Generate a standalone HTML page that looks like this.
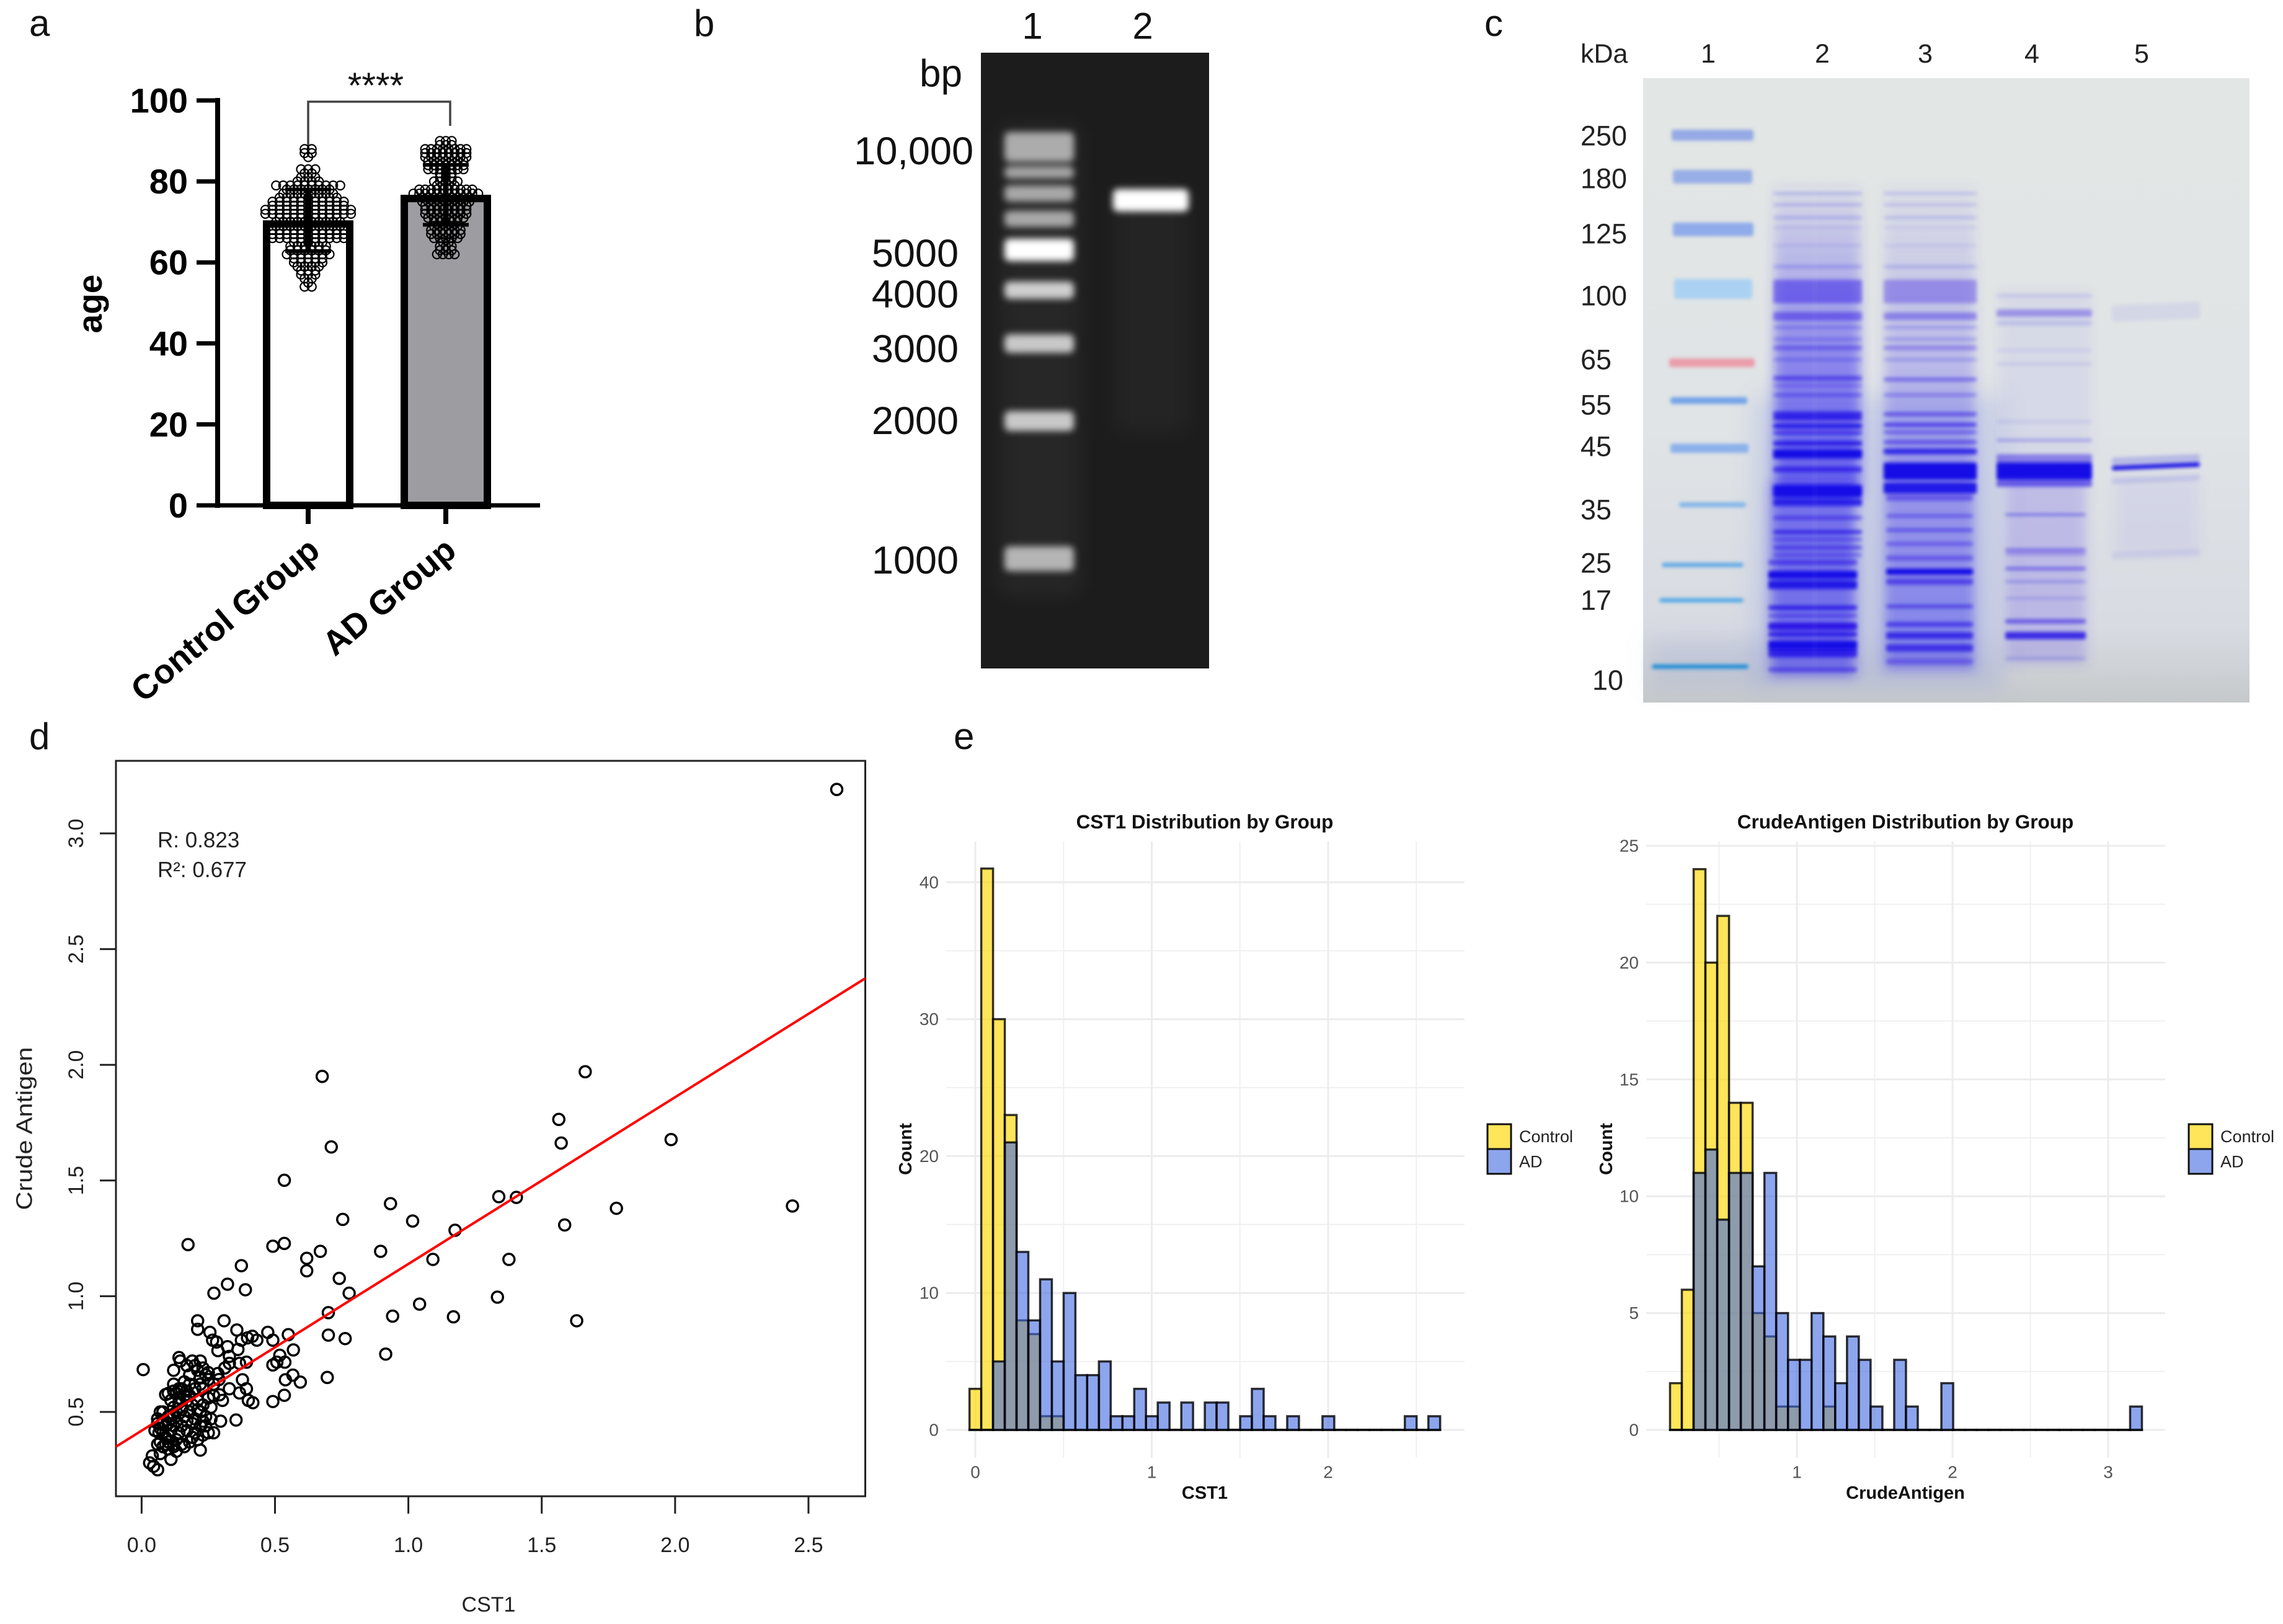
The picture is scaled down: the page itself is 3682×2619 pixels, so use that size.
<!DOCTYPE html>
<html lang="en">
<head>
<meta charset="utf-8">
<title>Multi-panel figure</title>
<style>
html,body{margin:0;padding:0;background:#fff;width:3682px;height:2619px;overflow:hidden}
svg{display:block}
text{font-family:"Liberation Sans",sans-serif}
</style>
</head>
<body>
<svg id="fig" xmlns="http://www.w3.org/2000/svg" width="3682" height="2619" viewBox="0 0 3682 2619">
<defs>
<filter id="blurB" x="-5%" y="-5%" width="110%" height="110%"><feGaussianBlur stdDeviation="5.5"/></filter>
<filter id="blurC" x="-5%" y="-5%" width="110%" height="110%"><feGaussianBlur stdDeviation="2.8"/></filter>
<filter id="blurSmear" x="-10%" y="-10%" width="120%" height="120%"><feGaussianBlur stdDeviation="9"/></filter>
<filter id="blurGlow" x="-20%" y="-20%" width="140%" height="140%"><feGaussianBlur stdDeviation="18"/></filter>
<linearGradient id="gelCbg" x1="0" y1="0" x2="0" y2="1">
<stop offset="0" stop-color="#e2e6e4"/><stop offset="0.55" stop-color="#e0e4e6"/><stop offset="0.88" stop-color="#d8dbe2"/><stop offset="1" stop-color="#c6c9cb"/>
</linearGradient>
<linearGradient id="smear2" x1="0" y1="0" x2="0" y2="1">
<stop offset="0" stop-color="#4a3cf0" stop-opacity="0.05"/><stop offset="0.22" stop-color="#4a3cf0" stop-opacity="0.25"/><stop offset="0.55" stop-color="#3a2cf0" stop-opacity="0.5"/><stop offset="1" stop-color="#2a20f0" stop-opacity="0.62"/>
</linearGradient>
<linearGradient id="smear3" x1="0" y1="0" x2="0" y2="1">
<stop offset="0" stop-color="#5a4cf0" stop-opacity="0.04"/><stop offset="0.22" stop-color="#5a4cf0" stop-opacity="0.2"/><stop offset="0.55" stop-color="#4a3cf0" stop-opacity="0.36"/><stop offset="1" stop-color="#3a30f0" stop-opacity="0.46"/>
</linearGradient>
</defs>
<rect width="3682" height="2619" fill="#fff"/>

<text x="47" y="58" font-size="60" fill="#111">a</text>
<text x="1119" y="58" font-size="60" fill="#111">b</text>
<text x="2394" y="58" font-size="60" fill="#111">c</text>
<text x="47" y="1208" font-size="60" fill="#111">d</text>
<text x="1538" y="1208" font-size="60" fill="#111">e</text>

<g id="panelA">
<text transform="rotate(-90 145 490)" x="145" y="490" text-anchor="middle" dominant-baseline="central" font-size="55" font-weight="700" fill="#000">age</text>
<text transform="rotate(-40 519 893)" x="519" y="893" text-anchor="end" font-size="55" font-weight="700" fill="#000">Control Group</text>
<text transform="rotate(-40 739 893)" x="739" y="893" text-anchor="end" font-size="55" font-weight="700" fill="#000">AD Group</text>
<text x="606" y="158" text-anchor="middle" font-size="58" fill="#111">****</text>
<path d="M497 235V164H726V203" fill="none" stroke="#444" stroke-width="3.5"/>
</g>

<g id="panelB">
<rect x="1582" y="85" width="368" height="993" fill="#1c1c1c"/>
<g filter="url(#blurGlow)">
<rect x="1612" y="200" width="130" height="760" fill="#fff" opacity="0.05"/>
<rect x="1795" y="300" width="125" height="400" fill="#fff" opacity="0.035"/>
</g>
<g id="gelBBands" filter="url(#blurB)"></g>
<text x="1665" y="42" text-anchor="middle" dominant-baseline="central" font-size="60" fill="#111">1</text>
<text x="1843" y="42" text-anchor="middle" dominant-baseline="central" font-size="60" fill="#111">2</text>
<text x="1552" y="119" text-anchor="end" dominant-baseline="central" font-size="62" fill="#111">bp</text>
<text x="1570" y="244" text-anchor="end" dominant-baseline="central" font-size="63" fill="#111">10,000</text>
<text x="1546" y="409" text-anchor="end" dominant-baseline="central" font-size="63" fill="#111">5000</text>
<text x="1546" y="475" text-anchor="end" dominant-baseline="central" font-size="63" fill="#111">4000</text>
<text x="1546" y="563" text-anchor="end" dominant-baseline="central" font-size="63" fill="#111">3000</text>
<text x="1546" y="679" text-anchor="end" dominant-baseline="central" font-size="63" fill="#111">2000</text>
<text x="1546" y="904" text-anchor="end" dominant-baseline="central" font-size="63" fill="#111">1000</text>
</g>

<g id="panelC">
<rect x="2650" y="126" width="978" height="1007" fill="url(#gelCbg)"/>
<g filter="url(#blurGlow)">
<rect x="2660" y="1030" width="190" height="80" fill="#8090d0" opacity="0.18"/>
<rect x="2830" y="640" width="400" height="470" fill="#6a78e8" opacity="0.2"/>
</g>
<g filter="url(#blurSmear)">
<rect x="2862" y="300" width="138" height="500" fill="url(#smear2)"/>
<rect x="2856" y="780" width="136" height="310" fill="#3428ee" opacity="0.55"/>
<rect x="3040" y="300" width="144" height="780" fill="url(#smear3)"/>
<rect x="3236" y="770" width="128" height="300" fill="#5a48f0" opacity="0.24"/>
<rect x="3226" y="470" width="146" height="270" fill="#6a58f0" opacity="0.08"/>
<rect x="3412" y="770" width="134" height="125" fill="#6a58f0" opacity="0.08"/>
</g>
<g id="gelCBands" filter="url(#blurC)"></g>
<rect x="2923" y="300" width="8" height="780" fill="#fff" opacity="0.07" filter="url(#blurSmear)"/>
<text x="2549" y="87" dominant-baseline="central" font-size="43" fill="#222">kDa</text>
<text x="2755" y="87" text-anchor="middle" dominant-baseline="central" font-size="43" fill="#222">1</text>
<text x="2939" y="87" text-anchor="middle" dominant-baseline="central" font-size="43" fill="#222">2</text>
<text x="3105" y="87" text-anchor="middle" dominant-baseline="central" font-size="43" fill="#222">3</text>
<text x="3277" y="87" text-anchor="middle" dominant-baseline="central" font-size="43" fill="#222">4</text>
<text x="3454" y="87" text-anchor="middle" dominant-baseline="central" font-size="43" fill="#222">5</text>
<text x="2549" y="219" dominant-baseline="central" font-size="45" fill="#222">250</text>
<text x="2549" y="288" dominant-baseline="central" font-size="45" fill="#222">180</text>
<text x="2549" y="377" dominant-baseline="central" font-size="45" fill="#222">125</text>
<text x="2549" y="477" dominant-baseline="central" font-size="45" fill="#222">100</text>
<text x="2549" y="580" dominant-baseline="central" font-size="45" fill="#222">65</text>
<text x="2549" y="653" dominant-baseline="central" font-size="45" fill="#222">55</text>
<text x="2549" y="720" dominant-baseline="central" font-size="45" fill="#222">45</text>
<text x="2549" y="822" dominant-baseline="central" font-size="45" fill="#222">35</text>
<text x="2549" y="908" dominant-baseline="central" font-size="45" fill="#222">25</text>
<text x="2549" y="968" dominant-baseline="central" font-size="45" fill="#222">17</text>
<text x="2568" y="1097" dominant-baseline="central" font-size="45" fill="#222">10</text>
</g>

<g id="panelD">
<rect x="187" y="1227" width="1208.5" height="1186" fill="none" stroke="#222" stroke-width="3"/>
<text x="788" y="2588" text-anchor="middle" dominant-baseline="central" font-size="34" fill="#222">CST1</text>
<text transform="rotate(-90 39 1820)" x="39" y="1820" text-anchor="middle" dominant-baseline="central" font-size="36" textLength="263" lengthAdjust="spacingAndGlyphs" fill="#222">Crude Antigen</text>
<text x="254" y="1355" dominant-baseline="central" font-size="35" fill="#222">R: 0.823</text>
<text x="254" y="1403" dominant-baseline="central" font-size="35" fill="#222">R²: 0.677</text>
</g>

<g id="panelE1">
<text x="1943" y="1325" text-anchor="middle" dominant-baseline="central" font-size="31.5" font-weight="700" fill="#111">CST1 Distribution by Group</text>
<text x="1943" y="2408" text-anchor="middle" dominant-baseline="central" font-size="29" font-weight="700" fill="#111">CST1</text>
<text transform="rotate(-90 1461 1853)" x="1461" y="1853" text-anchor="middle" dominant-baseline="central" font-size="29" font-weight="700" fill="#111">Count</text>
</g>

<g id="panelE2">
<text x="3073" y="1325" text-anchor="middle" dominant-baseline="central" font-size="31.5" font-weight="700" fill="#111">CrudeAntigen Distribution by Group</text>
<text x="3073" y="2408" text-anchor="middle" dominant-baseline="central" font-size="29" font-weight="700" fill="#111">CrudeAntigen</text>
<text transform="rotate(-90 2591 1853)" x="2591" y="1853" text-anchor="middle" dominant-baseline="central" font-size="29" font-weight="700" fill="#111">Count</text>
</g>
</svg>

<script>
/* ---------- Panel a data ---------- */
const ageTicks = [0, 20, 40, 60, 80, 100];
const groupMeans = [70.4, 76.7];
const groupSDs = [7.6, 7.4];
const controlAges = [54,55,56,57,58,59,60,61,62,63,64,65,66,67,68,69,70,71,72,73,74,75,76,77,78,79,80,81,82,83,86,87,88];
const controlAgeCounts = [2,1,2,3,3,4,5,5,7,6,6,5,11,11,11,10,10,9,13,13,11,11,9,8,7,10,4,3,2,3,1,2,2];
const adAges = [62,63,64,65,66,67,68,69,70,71,72,73,74,75,76,77,78,79,80,81,82,83,84,85,86,87,88,89,90];
const adAgeCounts = [4,3,3,2,5,6,6,5,5,7,8,8,8,9,9,12,10,4,5,3,3,7,7,7,8,8,8,3,3];

/* ---------- Panel d data ---------- */
const scatterXTicks = [0, 0.5, 1, 1.5, 2, 2.5];
const scatterYTicks = [0.5, 1, 1.5, 2, 2.5, 3];
const regressionIntercept = 0.419;
const regressionSlope = 0.7205;
const cst1Values = [2.606,2.44,1.985,1.78,1.663,1.564,1.573,1.586,1.631,1.405,1.339,1.377,1.334,1.175,1.169,1.092,1.042,1.016,.933,.941,.915,.896,.778,.754,.741,.711,.677,.67,.619,.619,.7,.7,.763,.696,.535,.535,.492,.174,.374,.322,.271,.389,.21,.21,.309,.006,.55,.473,.492,.569,.415,.397,.432,.357,.374,.256,.266,.281,.322,.286,.361,.329,.393,.367,.329,.312,.286,.492,.507,.518,.537,.567,.595,.539,.535,.492,.378,.393,.329,.367,.4,.417,.292,.303,.354,.296,
.03,.04,.045,.06,.11,.07,.13,.22,.16,.18,.1,.08,.07,.09,.12,.05,.06,.06,.07,.08,.1,.09,.08,.1,.11,.12,.13,.14,.15,.17,.19,.2,.21,.23,.25,.24,.22,.27,.26,.24,.22,.2,.18,.16,.13,.12,.14,.17,.19,.21,.25,.23,.11,.1,.12,.13,.15,.09,.14,.16,.17,.2,.22,.24,.25,.27,.29,.18,.12,.14,.12,.14,.145,.17,.19,.2,.22,.21,.23,.25,.22,.18,.23,.27,.26,.1,.08,.07,.11,.09,.1,.12,.15,.06,.065,.13,.15,.17,.19,.21,.23,.16,.18,.12];
const crudeValues = [3.19,1.39,1.677,1.38,1.97,1.764,1.662,1.308,.894,1.427,1.43,1.159,.996,1.285,.911,1.159,.966,1.325,1.4,.914,.75,1.194,1.013,1.332,1.077,1.645,1.95,1.194,1.164,1.11,.929,.832,.817,.649,1.501,1.228,1.216,1.223,1.132,1.052,1.013,1.028,.894,.857,.894,.683,.834,.844,.81,.768,.827,.82,.81,.854,.81,.844,.81,.802,.782,.765,.77,.74,.715,.71,.71,.69,.666,.703,.715,.745,.715,.659,.629,.639,.572,.545,.639,.6,.6,.582,.55,.54,.574,.55,.465,.46,
.28,.31,.265,.25,.295,.32,.33,.335,.35,.37,.34,.35,.37,.36,.36,.42,.45,.47,.5,.5,.48,.44,.41,.4,.42,.44,.38,.41,.44,.42,.39,.41,.38,.4,.41,.44,.44,.41,.47,.48,.5,.47,.5,.48,.5,.52,.54,.55,.53,.55,.56,.53,.55,.58,.59,.58,.6,.575,.56,.63,.59,.6,.62,.66,.64,.62,.64,.62,.62,.6,.68,.735,.72,.7,.72,.7,.72,.68,.69,.67,.65,.66,.6,.57,.52,.45,.46,.43,.47,.39,.37,.35,.36,.36,.41,.46,.51,.46,.45,.51,.46,.57,.57,.49];

/* ---------- Panel e data ---------- */
const cst1BinStart = -0.033;
const cst1BinWidth = 0.0667;
const cst1ControlCounts = [3,41,30,23,8,7,1,1,0,0,0,0,0,0,0,0,0,0,0,0,0,0,0,0,0,0,0,0,0,0,0,0,0,0,0,0,0,0,0,0];
const cst1ADCounts = [0,0,5,21,13,8,11,5,10,4,4,5,1,1,3,1,2,0,2,0,2,2,0,1,3,1,0,1,0,0,1,0,0,0,0,0,0,1,0,1];
const cst1XTicks = [0, 1, 2];
const cst1XMinor = [0.5, 1.5, 2.5];
const cst1YTicks = [0, 10, 20, 30, 40];
const cst1YMinor = [5, 15, 25, 35];

const crudeBinStart = 0.185;
const crudeBinWidth = 0.0758;
const crudeControlCounts = [2,6,24,20,22,14,14,5,4,1,1,0,0,1,0,0,0,0,0,0,0,0,0,0,0,0,0,0,0,0,0,0,0,0,0,0,0,0,0,0];
const crudeADCounts = [0,0,11,12,9,11,11,7,11,5,3,3,5,4,2,4,3,1,0,3,1,0,0,2,0,0,0,0,0,0,0,0,0,0,0,0,0,0,0,1];
const crudeXTicks = [1, 2, 3];
const crudeXMinor = [0.5, 1.5, 2.5];
const crudeYTicks = [0, 5, 10, 15, 20, 25];
const crudeYMinor = [2.5, 7.5, 12.5, 17.5, 22.5];

const legendLabels = ['Control', 'AD'];

/* ---------- Gel appearance: [y, opacity, thickness] ---------- */
const dnaLadder = [[237,.62,48],[278,.58,20],[312,.6,26],[353,.6,26],[403,1,36],[468,.78,28],[554,.75,30],[679,.75,32],[901,.66,40]];
const dnaSample = [[323,1,36]];
const lane2 = [[312,.2,4],[330,.2,4],[351,.2,4],[367,.1,4],[396,.1,4],[430,.2,5],[470,.42,38],[510,.4,14],[528,.24,5],[547,.24,5],[561,.36,7],[580,.24,5],[610,.5,7],[622,.28,5],[637,.4,5],[668,.68,9],[675,.7,6],[687,.85,8],[698,.65,5],[715,.72,8],[732,1,15],[757,.6,9],[792,1,20],[810,.82,12],[835,.48,6],[858,.68,6],[870,.42,5],[883,.5,6],[895,.4,5],[907,.5,8],[927,1,13],[943,.9,14],[980,.72,7],[993,.45,5],[1010,.8,12],[1023,.72,8],[1040,1,14],[1053,.72,14],[1080,.5,6]];
const lane3 = [[312,.16,4],[330,.16,4],[351,.16,4],[367,.08,4],[396,.08,4],[430,.16,5],[470,.3,38],[510,.34,12],[528,.2,5],[547,.2,5],[561,.3,7],[580,.2,5],[612,.42,6],[637,.32,5],[668,.5,6],[685,.62,6],[697,.45,5],[713,.5,6],[728,.82,9],[760,1,28],[787,.92,18],[803,.42,9],[832,.42,5],[855,.48,5],[877,.38,6],[900,.38,8],[922,1,10],[938,.52,10],[978,.5,6],[1007,.55,8],[1025,.68,11],[1045,.62,12],[1067,.34,8]];
const lane4 = [[477,.1,6],[505,.32,12],[521,.12,8],[565,.06,6],[587,.08,5],[680,.12,3],[710,.3,4],[740,.42,15],[760,1,28],[780,.55,10],[830,.5,3],[887,.4,5],[893,.25,5],[917,.45,5],[938,.34,3],[965,.17,4],[1002,.5,7],[1025,.75,12],[1062,.14,6]];
const lane5 = [[503,.06,26],[741,.18,12],[752,1,7],[773,.1,10],[893,.06,12]];
const markerBands = [[218,'#90a6e6',.95,18,2696,2828],[285,'#93abe6',.95,22,2698,2826],[370,'#8aa8ea',.95,22,2698,2828],[466,'#a8d0f2',.95,32,2700,2826],[585,'#ea98a6',.95,14,2692,2830],[646,'#6f9fe8',.95,11,2694,2818],[723,'#88aeea',.95,15,2694,2820],[814,'#7db3ea',.95,8,2708,2816],[911,'#5aa7e6',.95,7,2680,2812],[968,'#4ca6e6',.95,7,2676,2812],[1075,'#1f8cd6',.98,7,2664,2820]];

/* ---------- Helpers ---------- */
const NS = 'http://www.w3.org/2000/svg';
function mk(tag, attrs, parent) {
  const n = document.createElementNS(NS, tag);
  for (const k in attrs) n.setAttribute(k, attrs[k]);
  parent.appendChild(n);
  return n;
}
function fmt1(v) { return v.toFixed(1); }

/* ---------- Panel a ---------- */
(function () {
  const g = document.getElementById('panelA');
  const y = v => 815 - v * 6.53;
  const centers = [497, 719];
  const fills = ['#ffffff', '#9d9da1'];
  const barNames = ['control-bar', 'ad-bar'];
  groupMeans.forEach((m, i) => {
    const el = mk('rect', { x: centers[i] - 67, y: y(m) + 6, width: 134, height: 815 - y(m) - 6, fill: fills[i], stroke: '#000', 'stroke-width': 12 }, g);
    
    
  });
  function swarm(ages, counts, cx, step, name) {
    ages.forEach((a, i) => {
      const n = counts[i];
      for (let k = 0; k < n; k++) {
        const c = mk('circle', { cx: cx + (k - (n - 1) / 2) * step, cy: y(a), r: 7, fill: 'none', stroke: '#000', 'stroke-width': 2.2 }, g);
        
        
      }
    });
  }
  swarm(controlAges, controlAgeCounts, centers[0], 11.5, 'control-age-point');
  swarm(adAges, adAgeCounts, centers[1], 9.5, 'ad-age-point');
  groupMeans.forEach((m, i) => {
    const sd = groupSDs[i];
    const v = mk('line', { x1: centers[i], x2: centers[i], y1: y(m + sd), y2: y(m - sd), stroke: '#000', 'stroke-width': 9 }, g);
    
    
    [m + sd, m - sd].forEach(val => {
      const c = mk('line', { x1: centers[i] - 37, x2: centers[i] + 37, y1: y(val), y2: y(val), stroke: '#000', 'stroke-width': 6 }, g);
      
      
    });
    const t = mk('line', { x1: centers[i], x2: centers[i], y1: 815, y2: 845, stroke: '#000', 'stroke-width': 8 }, g);
    
    
  });
  const ya = mk('line', { x1: 351, x2: 351, y1: y(100) - 4, y2: 819, stroke: '#000', 'stroke-width': 8 }, g);
  
  
  const xa = mk('line', { x1: 317, x2: 871, y1: 815, y2: 815, stroke: '#000', 'stroke-width': 7 }, g);
  
  
  ageTicks.forEach(v => {
    const t = mk('line', { x1: 317, x2: 351, y1: y(v), y2: y(v), stroke: '#000', 'stroke-width': 7 }, g);
    
    
    const l = mk('text', { x: 303, y: y(v), 'text-anchor': 'end', 'dominant-baseline': 'central', 'font-size': 56, 'font-weight': 700, fill: '#000' }, g);
    
    
    l.textContent = v;
  });
})();

/* ---------- Panel b ---------- */
(function () {
  const g = document.getElementById('gelBBands');
  dnaLadder.forEach(b => {
    const r = mk('rect', { x: 1620, y: b[0] - b[2] / 2, width: 112, height: b[2], rx: 8, fill: '#fff', opacity: b[1] }, g);
    
    
  });
  dnaSample.forEach(b => {
    const r = mk('rect', { x: 1795, y: b[0] - b[2] / 2, width: 122, height: b[2], rx: 8, fill: '#fff', opacity: b[1] }, g);
    
    
  });
})();

/* ---------- Panel c ---------- */
(function () {
  const g = document.getElementById('gelCBands');
  markerBands.forEach(b => {
    const r = mk('rect', { x: b[4], y: b[0] - b[3] / 2, width: b[5] - b[4], height: b[3], rx: 4, fill: b[1], opacity: b[2] }, g);
    
    
  });
  function lane(bands, x0, x1, name, tilt, lowerFrom, dl, dr) {
    bands.forEach(b => {
      const lo = lowerFrom && b[0] > lowerFrom;
      const a = lo ? x0 + dl : x0;
      const c = lo ? x1 + dr : x1;
      const r = mk('rect', { x: a, y: b[0] - b[2] / 2, width: c - a, height: b[2], rx: 3, fill: '#1608e6', opacity: b[1] }, g);
      if (tilt) r.setAttribute('transform', 'rotate(' + tilt + ' ' + ((a + c) / 2) + ' ' + b[0] + ')');
      
      
    });
  }
  lane(lane2, 2860, 3003, 'lane-2-band', 0, 900, -8, -8);
  lane(lane3, 3038, 3188, 'lane-3-band', 0, 800, 4, -6);
  lane(lane4, 3220, 3374, 'lane-4-band', 0, 785, 14, -10);
  lane(lane5, 3406, 3548, 'lane-5-band', -2.4, 0, 0, 0);
})();

/* ---------- Panel d ---------- */
(function () {
  const g = document.getElementById('panelD');
  const x = v => 228.4 + v * 430.2;
  const y = v => 2277 - (v - 0.5) * 373.2;
  scatterXTicks.forEach(v => {
    const t = mk('line', { x1: x(v), x2: x(v), y1: 2413, y2: 2441, stroke: '#222', 'stroke-width': 3 }, g);
    
    
    const l = mk('text', { x: x(v), y: 2492, 'text-anchor': 'middle', 'dominant-baseline': 'central', 'font-size': 34, fill: '#222' }, g);
    
    
    l.textContent = fmt1(v);
  });
  scatterYTicks.forEach(v => {
    const t = mk('line', { x1: 161, x2: 187, y1: y(v), y2: y(v), stroke: '#222', 'stroke-width': 3 }, g);
    
    
    const l = mk('text', { x: 123, y: y(v), transform: 'rotate(-90 123 ' + y(v) + ')', 'text-anchor': 'middle', 'dominant-baseline': 'central', 'font-size': 34, fill: '#222' }, g);
    
    
    l.textContent = fmt1(v);
  });
  cst1Values.forEach((v, i) => {
    const c = mk('circle', { cx: x(v), cy: y(crudeValues[i]), r: 9, fill: 'none', stroke: '#000', 'stroke-width': 3.5 }, g);
    
    
  });
  const xMin = -0.0962, xMax = 2.7127;
  const line = mk('line', { x1: x(xMin), y1: y(regressionIntercept + regressionSlope * xMin), x2: x(xMax), y2: y(regressionIntercept + regressionSlope * xMax), stroke: '#f00', 'stroke-width': 4 }, g);
  
  
})();

/* ---------- Panel e ---------- */
function histogram(opts) {
  const g = document.getElementById(opts.id);
  const top = 1357, bottom = 2351;
  const x = v => opts.x0 + v * opts.xs;
  const y = v => 2306 - v * opts.ys;
  opts.yMinor.forEach(v => {
    const l = mk('line', { x1: opts.left, x2: opts.right, y1: y(v), y2: y(v), stroke: '#f0f0f0', 'stroke-width': 2 }, g);
    
    
  });
  opts.xMinor.forEach(v => {
    const l = mk('line', { x1: x(v), x2: x(v), y1: top, y2: bottom, stroke: '#f0f0f0', 'stroke-width': 2 }, g);
    
    
  });
  opts.yTicks.forEach(v => {
    const l = mk('line', { x1: opts.left, x2: opts.right, y1: y(v), y2: y(v), stroke: '#ececec', 'stroke-width': 3 }, g);
    
    
    const t = mk('text', { x: opts.left - 12, y: y(v), 'text-anchor': 'end', 'dominant-baseline': 'central', 'font-size': 28, fill: '#555' }, g);
    
    
    t.textContent = v;
  });
  opts.xTicks.forEach(v => {
    const l = mk('line', { x1: x(v), x2: x(v), y1: top, y2: bottom, stroke: '#ececec', 'stroke-width': 3 }, g);
    
    
    const t = mk('text', { x: x(v), y: 2374, 'text-anchor': 'middle', 'dominant-baseline': 'central', 'font-size': 28, fill: '#555' }, g);
    
    
    t.textContent = v;
  });
  const series = [[opts.control, 'rgba(255,215,0,0.65)', 'control-bar'], [opts.ad, 'rgba(65,105,225,0.6)', 'ad-bar']];
  series.forEach(s => {
    s[0].forEach((c, i) => {
      const a = x(opts.binStart + i * opts.binWidth);
      const b = x(opts.binStart + (i + 1) * opts.binWidth);
      /* a zero-height rect does not paint its stroke, so empty bins get a tiny height to keep the baseline */
      const r = mk('rect', { x: a, y: y(c) - (c === 0 ? 0.1 : 0), width: b - a, height: Math.max(y(0) - y(c), 0.1), fill: s[1], stroke: '#000', 'stroke-width': 3.5, 'stroke-opacity': 0.8 }, g);
      
      
    });
  });
  const keyFill = ['#ffe559', '#8da5ed'];
  legendLabels.forEach((lab, i) => {
    const k = mk('rect', { x: opts.legendX, y: 1813 + i * 40, width: 38, height: 40, fill: keyFill[i], stroke: '#111', 'stroke-width': 3 }, g);
    
    
    const t = mk('text', { x: opts.legendX + 51, y: 1833 + i * 40.5, 'dominant-baseline': 'central', 'font-size': 27, fill: '#222' }, g);
    
    
    t.textContent = lab;
  });
}
histogram({ id: 'panelE1', x0: 1573, xs: 284.5, ys: 22.08, left: 1526, right: 2362, legendX: 2399,
  binStart: cst1BinStart, binWidth: cst1BinWidth, control: cst1ControlCounts, ad: cst1ADCounts,
  xTicks: cst1XTicks, xMinor: cst1XMinor, yTicks: cst1YTicks, yMinor: cst1YMinor });
histogram({ id: 'panelE2', x0: 2647, xs: 251, ys: 37.68, left: 2655, right: 3492, legendX: 3530,
  binStart: crudeBinStart, binWidth: crudeBinWidth, control: crudeControlCounts, ad: crudeADCounts,
  xTicks: crudeXTicks, xMinor: crudeXMinor, yTicks: crudeYTicks, yMinor: crudeYMinor });
</script>
</body>
</html>
